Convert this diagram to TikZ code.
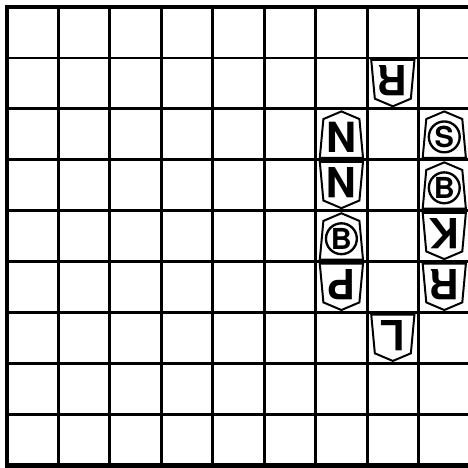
\documentclass[tikz,border=0pt]{standalone}
\usepackage{fontspec}
\setsansfont{TeX Gyre Heros}
\usetikzlibrary{positioning}

% one shogi piece: column, row (from top), label, angle
\newcommand{\shogipiece}[4]{%
  \begin{scope}[shift={(#1+0.5,8.5-#2)}, rotate=#4]
    \draw[piece] (-0.42,-0.46) -- (0.42,-0.46) -- (0.35,0.30)
      -- (0,0.45) -- (-0.35,0.30) -- cycle;
    \node[rotate=#4, letter] (p#1#2) at (0,-0.05) {#3};
  \end{scope}}
\newcommand{\promoted}[3]{%
  \begin{scope}[shift={(#1+0.5,8.5-#2)}]
    \draw[piece] (-0.42,-0.46) -- (0.42,-0.46) -- (0.35,0.30)
      -- (0,0.45) -- (-0.35,0.30) -- cycle;
    \node[ring] (p#1#2) at (0,-0.05) {#3};
  \end{scope}}

\begin{document}
\begin{tikzpicture}[y=0.99cm,
    grid/.style={line width=1.6pt},
    frame/.style={line width=2.6pt},
    piece/.style={line width=1.1pt, line join=miter, fill=white},
    letter/.style={font=\sffamily\bfseries\fontsize{23}{23}\selectfont,
      inner sep=0pt},
    ring/.style={draw, circle, line width=1.3pt, minimum size=0.6cm,
      inner sep=0pt, font=\sffamily\bfseries\fontsize{16}{16}\selectfont}
  ]
  \useasboundingbox (-0.137,-0.052) rectangle (8.96,9.138);

  % board
  \foreach \i in {1,...,8} {
    \draw[grid] (\i,0) -- (\i,9);
    \draw[grid] (0,\i) -- (9,\i);
  }
  \draw[frame] (0,0) rectangle (9,9);

  % pieces
  \shogipiece{7}{1}{R}{180}
  \shogipiece{6}{2}{N}{0}
  \promoted{8}{2}{S}
  \shogipiece{6}{3}{N}{180}
  \promoted{8}{3}{B}
  \promoted{6}{4}{B}
  \shogipiece{8}{4}{K}{180}
  \shogipiece{6}{5}{P}{180}
  \shogipiece{8}{5}{R}{180}
  \shogipiece{7}{6}{L}{180}
\end{tikzpicture}
\end{document}
